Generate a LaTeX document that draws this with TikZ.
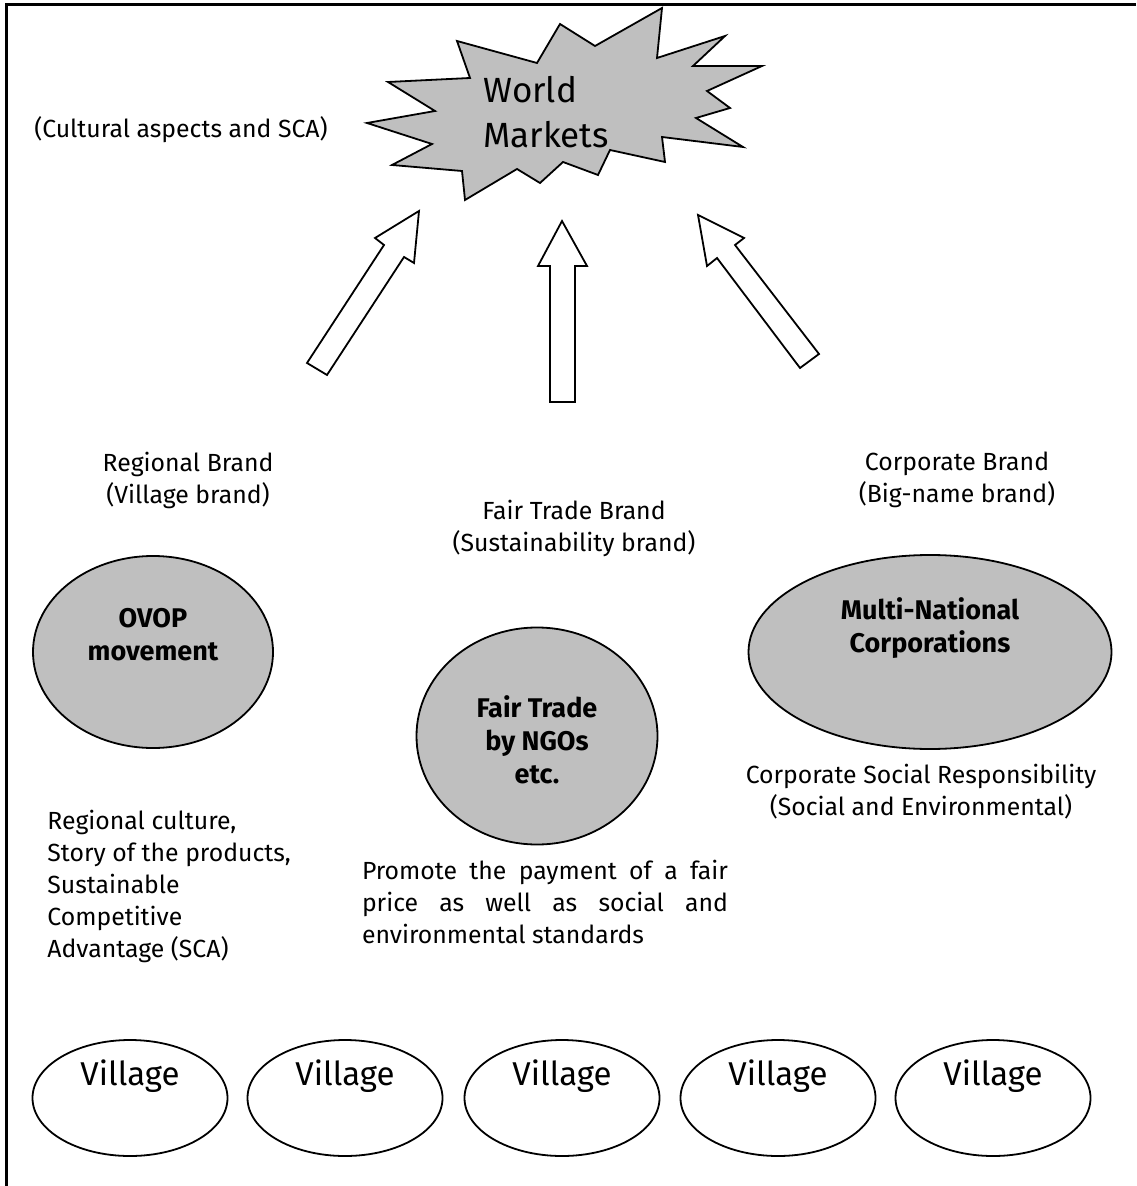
\documentclass[tikz,border=0pt]{standalone}
\usepackage{fontspec}
\setmainfont{Fira Sans}
\usepackage{tikz}
\usetikzlibrary{shapes.geometric,positioning}

\begin{document}
\begin{tikzpicture}[
    x=0.5pt, y=-0.5pt,
    font=\fontsize{12.4}{16}\selectfont,
    note/.style={align=center, inner sep=0pt},
    actor/.style={draw, ellipse, fill=black!25, line width=0.9pt, inner sep=0pt},
    actortext/.style={align=center, inner sep=0pt, font=\fontsize{13.5}{16.5}\selectfont\bfseries},
    village/.style={draw, ellipse, line width=0.9pt, minimum width=97.5pt, minimum height=58pt, inner sep=0pt},
    villagetext/.style={inner sep=0pt, font=\fontsize{16.5}{18}\selectfont},
    blockarrow/.style={draw, fill=white, line width=0.9pt, line join=miter}
]
\useasboundingbox (0,0) rectangle (1136,1186);
\draw[line width=1.5pt] (1136,5) -| (6,1186);

% world markets
\draw[fill=black!25, line width=0.9pt, line join=miter]
    (367,123) -- (435,111) -- (388,82) -- (470,78) -- (457,41) -- (537,63)
    -- (560,24) -- (595,46) -- (662,8) -- (657,58) -- (725,36) -- (693,66)
    -- (762,66) -- (707,91) -- (730,108) -- (696,118) -- (743,147) -- (662,137)
    -- (665,162) -- (610,150) -- (598,175) -- (563,162) -- (540,183) -- (517,169)
    -- (465,200) -- (462,171) -- (392,165) -- (432,144) -- cycle;
\node[align=left, inner sep=0pt, anchor=west, font=\fontsize{17.5}{22.5}\selectfont] (world) at (483,112) {World\\Markets};
\node[note] (culture) at (181,130) {(Cultural aspects and SCA)};

% arrows up
\draw[blockarrow] (419,211) -- (414,263) -- (404,257) -- (327,375) -- (307,363) -- (384,245) -- (375,238) -- cycle;
\draw[blockarrow] (562,221) -- (587,266) -- (575,266) -- (575,402) -- (550,402) -- (550,266) -- (538,266) -- cycle;
\draw[blockarrow] (698,215) -- (707,266) -- (717,258) -- (800,368) -- (819,354) -- (735,245) -- (744,238) -- cycle;

% brands
\node[note] (regbrand) at (188,480) {Regional Brand\\(Village brand)};
\node[note] (ftbrand) at (574,528) {Fair Trade Brand\\(Sustainability brand)};
\node[note] (corpbrand) at (957,480) {Corporate Brand\\(Big-name brand)};

% actors
\node[actor, minimum width=120pt, minimum height=96pt] (ovop) at (153,652) {};
\node[actortext] (ovoptext) at (153,635) {OVOP\\movement};
\node[actor, minimum width=120.5pt, minimum height=108.5pt] (fairtrade) at (537,736) {};
\node[actortext] (fairtradetext) at (537,740) {Fair Trade\\by NGOs\\etc.};
\node[actor, minimum width=181.5pt, minimum height=97pt] (mnc) at (930,652) {};
\node[actortext] (mnctext) at (930,628) {Multi-National\\Corporations};

% descriptions
\node[note] (csr) at (921,792) {Corporate Social Responsibility\\(Social and Environmental)};
\node[align=left, inner sep=0pt, anchor=west] (regdesc) at (47,886)
    {Regional culture,\\Story of the products,\\Sustainable\\Competitive\\Advantage (SCA)};
\node[align=justify, inner sep=0pt, text width=183pt] (fairdesc) at (545,902)
    {Promote the payment of a fair\linebreak price as well as social and\linebreak environmental standards};

% villages
\foreach \x [count=\i] in {130,345,562,778,993} {
    \node[village] (village\i) at (\x,1098) {};
    \node[villagetext] (villagetext\i) at (\x,1076) {Village};
}
\end{tikzpicture}
\end{document}
